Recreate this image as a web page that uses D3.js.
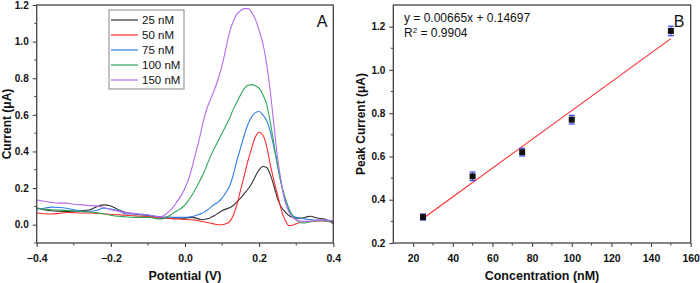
<!DOCTYPE html>
<html><head><meta charset="utf-8">
<script src="https://cdn.jsdelivr.net/npm/d3@7"></script>
<style>
html,body{margin:0;padding:0;background:#fff;}
svg{display:block;font-family:"Liberation Sans",Arial,sans-serif;}
</style></head>
<body><svg id="chart" width="700" height="283"></svg>
<script>
// ---------- Panel A data ----------
const potential = [-0.40,-0.38,-0.36,-0.34,-0.32,-0.30,-0.28,-0.26,-0.24,-0.22,-0.20,-0.18,-0.16,-0.14,-0.12,
  -0.10,-0.09,-0.08,-0.07,-0.06,-0.05,-0.04,-0.03,-0.02,-0.01,0.00,0.01,0.02,0.03,0.04,0.05,0.06,0.07,0.08,0.09,
  0.10,0.11,0.12,0.13,0.14,0.15,0.16,0.17,0.18,0.19,0.20,0.21,0.22,0.23,0.24,0.25,0.26,0.27,0.28,0.29,
  0.30,0.31,0.32,0.33,0.34,0.35,0.36,0.37,0.38,0.39,0.40];
const current25 = [0.091,0.082,0.076,0.074,0.073,0.074,0.076,0.080,0.096,0.108,0.102,0.082,0.068,0.060,0.055,
  0.050,0.046,0.040,0.036,0.036,0.036,0.036,0.036,0.036,0.036,0.036,0.038,0.040,0.036,0.030,0.028,0.032,0.040,0.050,0.064,
  0.076,0.085,0.092,0.105,0.125,0.145,0.170,0.195,0.225,0.265,0.300,0.318,0.312,0.275,0.210,0.140,0.095,0.070,0.050,0.040,
  0.036,0.036,0.038,0.044,0.046,0.040,0.035,0.033,0.028,0.020,0.005];
const current50 = [0.064,0.060,0.058,0.062,0.067,0.066,0.064,0.064,0.062,0.060,0.056,0.054,0.052,0.049,0.046,
  0.044,0.042,0.040,0.040,0.038,0.036,0.034,0.032,0.031,0.030,0.028,0.027,0.027,0.024,0.020,0.016,0.012,0.008,0.003,0.000,
  0.000,0.005,0.015,0.050,0.110,0.190,0.270,0.350,0.420,0.480,0.505,0.490,0.430,0.330,0.240,0.160,0.080,0.025,-0.005,-0.003,
  0.005,0.012,0.016,0.018,0.018,0.019,0.020,0.020,0.019,0.017,0.015];
const current75 = [0.084,0.090,0.096,0.094,0.090,0.082,0.074,0.072,0.078,0.090,0.086,0.076,0.060,0.058,0.056,
  0.052,0.050,0.046,0.044,0.042,0.042,0.042,0.040,0.040,0.040,0.040,0.042,0.045,0.050,0.058,0.066,0.080,0.096,0.112,0.125,
  0.145,0.175,0.210,0.270,0.350,0.420,0.490,0.550,0.590,0.612,0.618,0.600,0.570,0.510,0.420,0.320,0.220,0.130,0.080,0.050,
  0.040,0.035,0.032,0.030,0.028,0.026,0.025,0.024,0.022,0.020,0.018];
const current100 = [0.091,0.085,0.082,0.080,0.078,0.075,0.072,0.069,0.066,0.060,0.052,0.046,0.043,0.040,0.040,
  0.040,0.038,0.034,0.031,0.032,0.042,0.052,0.065,0.078,0.090,0.108,0.135,0.165,0.200,0.240,0.280,0.330,0.380,0.420,0.460,
  0.500,0.540,0.580,0.630,0.670,0.710,0.745,0.762,0.765,0.758,0.745,0.710,0.660,0.560,0.440,0.320,0.220,0.150,0.090,0.050,
  0.025,0.012,0.009,0.012,0.016,0.020,0.022,0.022,0.021,0.020,0.020];
const current150 = [0.136,0.128,0.122,0.118,0.118,0.112,0.108,0.105,0.103,0.095,0.082,0.074,0.066,0.062,0.058,
  0.054,0.050,0.046,0.042,0.048,0.060,0.078,0.100,0.130,0.160,0.200,0.250,0.320,0.400,0.480,0.570,0.640,0.690,0.740,0.800,
  0.870,0.960,1.050,1.110,1.150,1.170,1.180,1.180,1.160,1.120,1.060,0.990,0.880,0.730,0.540,0.360,0.230,0.130,0.070,0.040,
  0.027,0.020,0.018,0.018,0.020,0.022,0.025,0.025,0.025,0.024,0.023];
const seriesLabels = ["25 nM","50 nM","75 nM","100 nM","150 nM"];
const seriesColors = ["#333333","#ff2d2d","#2f7fe8","#2fa85a","#b46cf0"];
const seriesValues = [current25,current50,current75,current100,current150];
const xTicksA = [-0.4,-0.2,0.0,0.2,0.4];
const yTicksA = [0.0,0.2,0.4,0.6,0.8,1.0,1.2];

// ---------- Panel B data ----------
const concentration = [25,50,75,100,150];
const peakCurrent = [0.320,0.508,0.620,0.770,1.180];
const peakError = [0.014,0.020,0.018,0.020,0.022];
const fitSlope = 0.00665, fitIntercept = 0.14697;
const xTicksB = [20,40,60,80,100,120,140,160];
const yTicksB = [0.2,0.4,0.6,0.8,1.0,1.2];

const svg = d3.select("#chart");
const frameColor = "#444";

function drawFrame(g, x, y, xTicks, xMinor, yTicks, yMinor, xFmt, yFmt){
  const [x0,x1] = x.range(), [y0,y1] = y.range();
  g.selectAll(".xminor").data(xMinor).join("line")
    .attr("x1",d=>x(d)).attr("x2",d=>x(d)).attr("y1",y0).attr("y2",y0+2.5)
    .attr("stroke",frameColor).attr("stroke-width",1);
  g.selectAll(".yminor").data(yMinor).join("line")
    .attr("y1",d=>y(d)).attr("y2",d=>y(d)).attr("x1",x0).attr("x2",x0-2.5)
    .attr("stroke",frameColor).attr("stroke-width",1);
  const xa = g.append("g").attr("transform",`translate(0,${y0})`)
    .call(d3.axisBottom(x).tickValues(xTicks).tickFormat(xFmt).tickSize(4).tickSizeOuter(0));
  const ya = g.append("g").attr("transform",`translate(${x0},0)`)
    .call(d3.axisLeft(y).tickValues(yTicks).tickFormat(yFmt).tickSize(4).tickSizeOuter(0));
  [xa,ya].forEach(a=>{
    a.select(".domain").remove();
    a.selectAll("line").attr("stroke",frameColor).attr("stroke-width",1.1);
    a.selectAll("text").attr("fill","#111").attr("font-weight","bold")
      .attr("font-family","'Liberation Sans',Arial,sans-serif");
  });
  xa.selectAll("text").attr("font-size",10.5).attr("dy","1.1em");
  ya.selectAll("text").attr("font-size",10).attr("dx","-0.1em");
  g.append("rect").attr("x",x0).attr("y",y1).attr("width",x1-x0).attr("height",y0-y1)
    .attr("fill","none").attr("stroke",frameColor).attr("stroke-width",1.3);
}

// ---------- Panel A ----------
const xA = d3.scaleLinear().domain([-0.4,0.4]).range([36.7,333.3]);
const yA = d3.scaleLinear().domain([-0.1,1.2]).range([243,5]);
const gA = svg.append("g");
svg.append("clipPath").attr("id","clipA").append("rect")
  .attr("x",36.7).attr("y",5).attr("width",296.6).attr("height",238);
const lineA = d3.line().x((d,i)=>xA(potential[i])).y(d=>yA(d)).curve(d3.curveMonotoneX);
gA.append("g").attr("clip-path","url(#clipA)").selectAll("path").data(seriesValues).join("path")
  .attr("d",d=>lineA(d)).attr("fill","none")
  .attr("stroke",(d,i)=>seriesColors[i]).attr("stroke-width",1.1);
drawFrame(gA, xA, yA, xTicksA, d3.range(-0.3,0.4,0.2), yTicksA, d3.range(-0.1,1.2,0.2),
  d3.format(".1f"), d3.format(".1f"));
gA.append("text").attr("x",185).attr("y",280).attr("text-anchor","middle")
  .attr("font-size",12.5).attr("font-weight","bold").attr("fill","#111").text("Potential (V)");
gA.append("text").attr("transform","translate(11,124) rotate(-90)").attr("text-anchor","middle")
  .attr("font-size",12).attr("font-weight","bold").attr("fill","#111").text("Current (μA)");
gA.append("text").attr("x",322).attr("y",27).attr("text-anchor","middle")
  .attr("font-size",16).attr("fill","#111").text("A");
const leg = gA.append("g");
leg.append("rect").attr("x",109).attr("y",10).attr("width",75).attr("height",79)
  .attr("fill","#fff").attr("stroke","#999").attr("stroke-width",1.2);
seriesLabels.forEach((lab,i)=>{
  const yy = 20 + i*15;
  leg.append("line").attr("x1",111).attr("x2",138).attr("y1",yy).attr("y2",yy)
    .attr("stroke",seriesColors[i]).attr("stroke-width",1.2);
  leg.append("text").attr("x",142).attr("y",yy+4).attr("font-size",11.5).attr("fill","#111").text(lab);
});

// ---------- Panel B ----------
const xB = d3.scaleLinear().domain([10,160]).range([393.3,690.7]);
const yB = d3.scaleLinear().domain([0.2,1.3]).range([243,5]);
const gB = svg.append("g");
drawFrame(gB, xB, yB, xTicksB, d3.range(30,160,20), yTicksB, d3.range(0.3,1.3,0.2),
  d3.format("d"), d3.format(".1f"));
gB.append("line")
  .attr("x1",xB(concentration[0])).attr("y1",yB(fitSlope*concentration[0]+fitIntercept))
  .attr("x2",xB(concentration[concentration.length-1])).attr("y2",yB(fitSlope*concentration[concentration.length-1]+fitIntercept))
  .attr("stroke","#ff2a2a").attr("stroke-width",1.1);
const eb = gB.append("g").selectAll("g").data(concentration).join("g");
eb.append("line").attr("x1",d=>xB(d)).attr("x2",d=>xB(d))
  .attr("y1",(d,i)=>yB(peakCurrent[i]-peakError[i])).attr("y2",(d,i)=>yB(peakCurrent[i]+peakError[i]))
  .attr("stroke","#3344ee").attr("stroke-width",1);
[-1,1].forEach(s=>{
  eb.append("line").attr("x1",d=>xB(d)-3).attr("x2",d=>xB(d)+3)
    .attr("y1",(d,i)=>yB(peakCurrent[i]+s*peakError[i])).attr("y2",(d,i)=>yB(peakCurrent[i]+s*peakError[i]))
    .attr("stroke","#3344ee").attr("stroke-width",1.2);
});
eb.append("rect").attr("x",d=>xB(d)-3).attr("y",(d,i)=>yB(peakCurrent[i])-3)
  .attr("width",6).attr("height",6).attr("fill","#111");
gB.append("text").attr("x",542).attr("y",280).attr("text-anchor","middle")
  .attr("font-size",12.5).attr("font-weight","bold").attr("fill","#111").text("Concentration (nM)");
gB.append("text").attr("transform","translate(365,124) rotate(-90)").attr("text-anchor","middle")
  .attr("font-size",12).attr("font-weight","bold").attr("fill","#111").text("Peak Current (μA)");
gB.append("text").attr("x",404).attr("y",22).attr("font-size",12).attr("fill","#111")
  .text("y = 0.00665x + 0.14697");
const r2 = gB.append("text").attr("x",404).attr("y",37).attr("font-size",12).attr("fill","#111");
r2.append("tspan").text("R");
r2.append("tspan").attr("dy",-4).attr("font-size",8).text("2");
r2.append("tspan").attr("dy",4).text(" = 0.9904");
gB.append("text").attr("x",679).attr("y",27).attr("text-anchor","middle")
  .attr("font-size",16).attr("fill","#111").text("B");
</script></body></html>
